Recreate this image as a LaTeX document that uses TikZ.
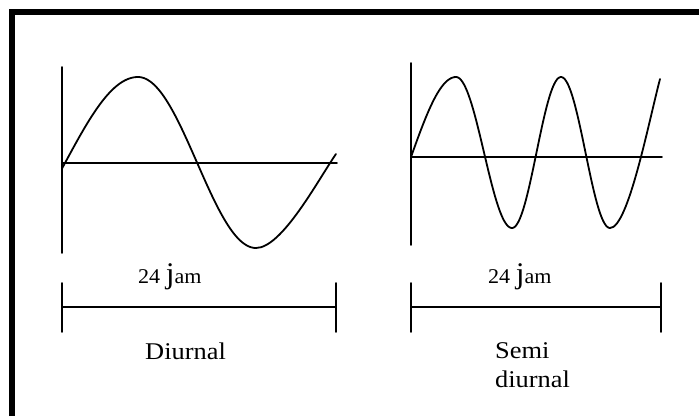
\documentclass[tikz,border=0pt]{standalone}
\usepackage{fontspec}
\setmainfont{Liberation Serif}
\newfontfamily\widefont[FakeStretch=1.1]{Liberation Serif}
\newfontfamily\midfont[FakeStretch=1.05]{Liberation Serif}
\begin{document}
\begin{tikzpicture}[x=1pt,y=-1pt, line cap=round, line join=round,
  wave/.style={line width=1.8pt},
  axis/.style={line width=1.6pt},
  small/.style={inner sep=0pt, anchor=base west, font=\midfont\fontsize{21}{24}\selectfont},
  word/.style={inner sep=0pt, anchor=base west, font=\widefont\fontsize{24}{28}\selectfont}]
\useasboundingbox (0,0) rectangle (699,416);
\fill[white] (0,0) rectangle (699,416);
% frame
\draw[line width=6pt, line cap=butt, line join=miter] (12,416) -- (12,12) -- (699,12);
% left diagram axes
\draw[axis] (62,67) -- (62,253);
\draw[axis] (62,163) -- (337,163);
% left wave
\draw[wave] plot[domain=62:138, samples=40] (\x, {163-86*sin(90*(\x-65)/73)});
\draw[wave] plot[domain=0:1, samples=60, variable=\t] ({138+118*\t}, {77+171*(1-cos(180*\t))/2});
\draw[wave] (256,248) .. controls (282,248) and (318,180) .. (336,154);
% right diagram axes
\draw[axis] (411,63) -- (411,245);
\draw[axis] (411,157) -- (662,157);
% right wave
\draw[wave] plot[domain=411:456, samples=30] (\x, {157-80*sin(90*(\x-411)/45)});
\draw[wave] plot[domain=0:1, samples=50, variable=\t] ({456+56*\t}, {77+151*(1-cos(180*\t))/2});
\draw[wave] plot[domain=0:1, samples=50, variable=\t] ({512+49*\t}, {228-151*(1-cos(180*\t))/2});
\draw[wave] plot[domain=0:1, samples=50, variable=\t] ({561+49*\t}, {77+151*(1-cos(180*\t))/2});
\draw[wave] (610,228) .. controls (628,228) and (648,125) .. (660,79);
% time bars
\draw[axis] (62,283) -- (62,332);
\draw[axis] (336,283) -- (336,332);
\draw[axis] (62,307) -- (336,307);
\draw[axis] (411,283) -- (411,332);
\draw[axis] (661,283) -- (661,332);
\draw[axis] (411,307) -- (661,307);
% labels
\node[small] (jamL) at (138,283) {24 {\fontsize{30}{30}\selectfont j}am};
\node[small] (jamR) at (488,283) {24 {\fontsize{30}{30}\selectfont j}am};
\node[word] (diurnal) at (145,359) {Diurnal};
\node[word] (semi) at (495,358) {Semi};
\node[word] (semid) at (495,387) {diurnal};
\end{tikzpicture}
\end{document}
